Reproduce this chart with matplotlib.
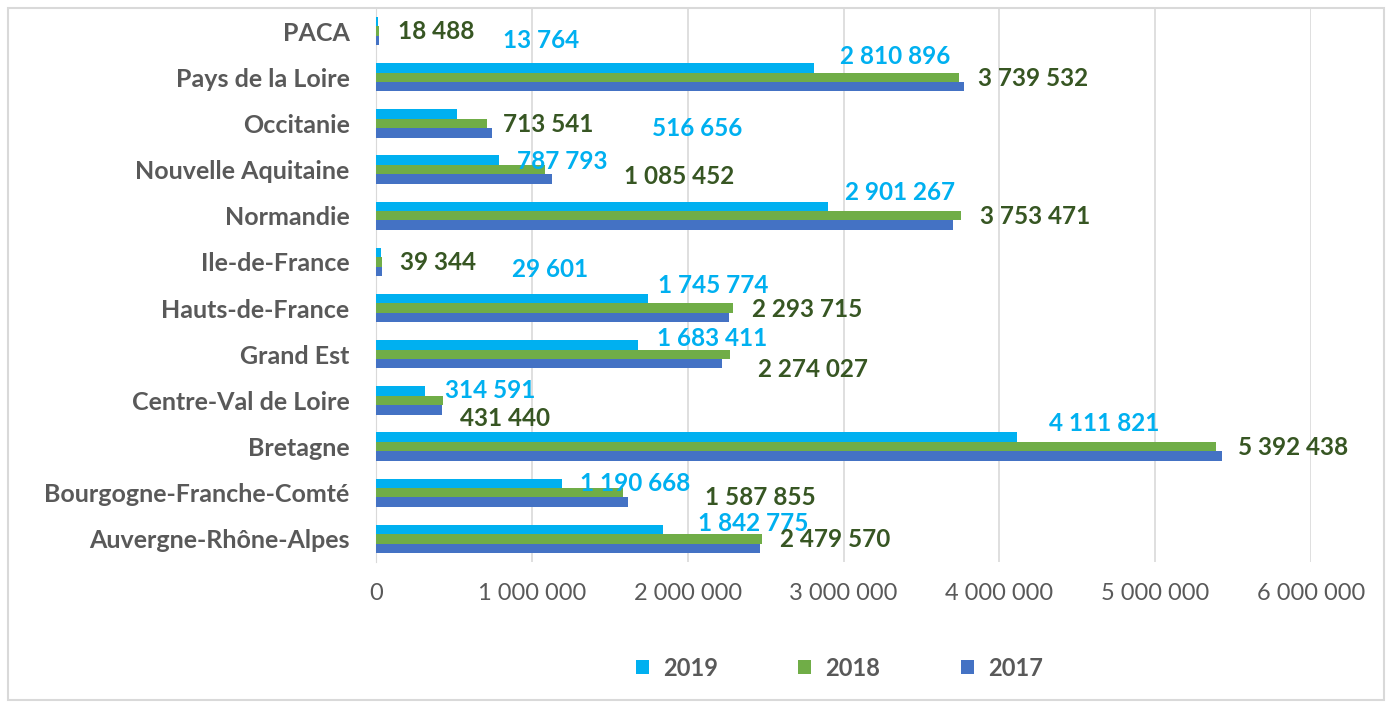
import matplotlib.pyplot as plt
import numpy as np
from matplotlib.patches import Rectangle
from matplotlib.ticker import FuncFormatter

regions = ['Auvergne-Rhône-Alpes', 'Bourgogne-Franche-Comté', 'Bretagne',
           'Centre-Val de Loire', 'Grand Est', 'Hauts-de-France', 'Ile-de-France',
           'Normandie', 'Nouvelle Aquitaine', 'Occitanie', 'Pays de la Loire', 'PACA']
v2019 = [1842775, 1190668, 4111821, 314591, 1683411, 1745774, 29601,
         2901267, 787793, 516656, 2810896, 13764]
v2018 = [2479570, 1587855, 5392438, 431440, 2274027, 2293715, 39344,
         3753471, 1085452, 713541, 3739532, 18488]
v2017 = [2465000, 1620000, 5430000, 425000, 2220000, 2265000, 38000,
         3700000, 1130000, 745000, 3775000, 22000]

# label offsets in pixels (dx, dy) from the bar end, as placed in the original
off2019 = [(35, 6), (18, 0), (32, 14), (20, 0), (19, 6), (10, 13), (131, -17),
           (17, 14), (18, -1), (195, -15), (26, 11), (125, -19)]
off2018 = [(18, -1), (82, -5), (22, -1), (17, -18), (28, -15), (19, -1), (18, -1),
           (19, -1), (79, -7), (16, -1), (19, -1), (19, 0)]

c19, c18, c17 = '#00B0F0', '#70AD47', '#4472C4'
grey = '#595959'
plt.rcParams['font.family'] = ['Lato', 'DejaVu Sans']

def fmt(v):
    return f'{int(v):,}'.replace(',', ' ')

fig = plt.figure(figsize=(13.92, 7.04), dpi=100)
ax = fig.add_axes([376/1392, 1 - 562/704, (1311 - 376)/1392, 554/704])

y = np.arange(len(regions))
h = 0.205
ax.barh(y + h, v2019, height=h, color=c19, label='2019', zorder=3)
ax.barh(y, v2018, height=h, color=c18, label='2018', zorder=3)
ax.barh(y - h, v2017, height=h, color=c17, label='2017', zorder=3)

for i in range(len(regions)):
    ax.annotate(fmt(v2019[i]), (v2019[i], y[i] + h), xytext=off2019[i],
                textcoords='offset pixels', ha='left', va='center',
                color=c19, fontsize=17.5, fontweight='bold', zorder=4)
    ax.annotate(fmt(v2018[i]), (v2018[i], y[i]), xytext=off2018[i],
                textcoords='offset pixels', ha='left', va='center',
                color='#375623', fontsize=17.5, fontweight='bold', zorder=4)

ax.set_xlim(0, 6000000)
ax.set_ylim(-0.5, len(regions) - 0.5)
ax.set_xticks(np.arange(0, 6000001, 1000000))
ax.xaxis.set_major_formatter(FuncFormatter(lambda v, p: fmt(v)))
ax.set_yticks(y)
ax.set_yticklabels(regions, fontsize=18, fontweight='bold', color=grey)
ax.tick_params(axis='x', length=0, pad=15, labelsize=17, labelcolor=grey)
ax.tick_params(axis='y', length=0, pad=19)
ax.grid(axis='x', color='#d9d9d9', linewidth=1.2, zorder=0)
for s in ['top', 'right', 'bottom']:
    ax.spines[s].set_visible(False)
ax.spines['left'].set_color('#d9d9d9')

leg = fig.legend(loc='center', bbox_to_anchor=(0.603, 1 - 668/704), ncol=3,
                 frameon=False, handlelength=0.55, handleheight=0.55,
                 handletextpad=0.6, columnspacing=3.4,
                 prop={'size': 17, 'weight': 'bold'})
for t in leg.get_texts():
    t.set_color(grey)

fig.patches.append(Rectangle((8/1392, 4/704), 1376/1392, 692/704,
                             transform=fig.transFigure, fill=False,
                             edgecolor='#d9d9d9', linewidth=1.5))

fig.savefig('out.png', dpi=100)
